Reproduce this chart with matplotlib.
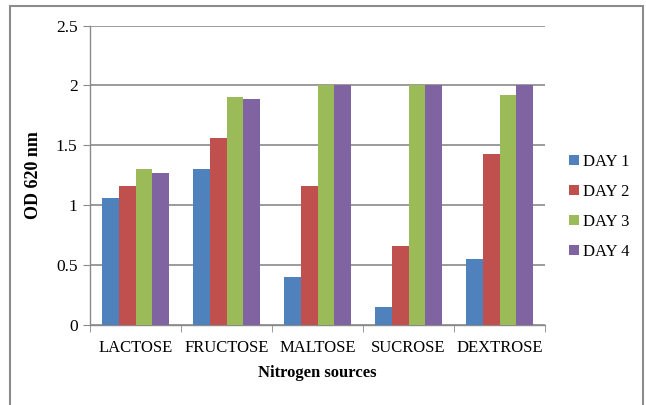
import numpy as np
import matplotlib
matplotlib.use("Agg")
import matplotlib.pyplot as plt
from matplotlib.patches import Rectangle

plt.rcParams['font.family'] = ['Liberation Serif', 'DejaVu Serif']

sources = ['LACTOSE', 'FRUCTOSE', 'MALTOSE', 'SUCROSE', 'DEXTROSE']
day1 = [1.06, 1.30, 0.40, 0.15, 0.55]
day2 = [1.16, 1.56, 1.16, 0.66, 1.43]
day3 = [1.30, 1.90, 2.00, 2.00, 1.92]
day4 = [1.27, 1.89, 2.00, 2.00, 2.00]
series = [('DAY 1', day1), ('DAY 2', day2), ('DAY 3', day3), ('DAY 4', day4)]
colors = ['#4F81BD', '#C0504D', '#9BBB59', '#8064A2']
grid_c = '#8a8a8a'

fig = plt.figure(figsize=(6.46, 4.05), dpi=100)
ax = fig.add_axes([90 / 646, 1 - 325 / 405, 455 / 646, 299.5 / 405])

x = np.arange(len(sources))
w = 1 / 5.5
for i, (name, vals) in enumerate(series):
    ax.bar(x + (i - 1.5) * w, vals, width=w, color=colors[i], label=name, zorder=3)

ax.set_xlim(-0.5, len(sources) - 0.5)
ax.set_ylim(0, 2.5)
ax.set_yticks([0, 0.5, 1, 1.5, 2, 2.5])
ax.set_yticklabels(['0', '0.5', '1', '1.5', '2', '2.5'])
ax.set_xticks(x)
ax.set_xticklabels(sources)
ax.set_xticks(np.arange(-0.5, len(sources)), minor=True)
ax.tick_params(axis='x', which='major', length=0, pad=11, labelsize=12)
ax.tick_params(axis='x', which='minor', length=5, color=grid_c, direction='out')
ax.tick_params(axis='y', length=5, color=grid_c, pad=4, labelsize=12.5)
ax.yaxis.grid(True, color=grid_c, linewidth=1.2, zorder=0)
for side in ['top', 'right']:
    ax.spines[side].set_visible(False)
for side in ['left', 'bottom']:
    ax.spines[side].set_color(grid_c)
    ax.spines[side].set_linewidth(1.0)

ax.set_xlabel('Nitrogen sources', fontsize=12, fontweight='bold', labelpad=6)
ax.set_ylabel('OD 620 nm', fontsize=13, fontweight='bold', labelpad=10)

fig.legend(loc='center left', bbox_to_anchor=(561 / 646, 1 - 207 / 405),
           frameon=False, fontsize=12, handlelength=0.55, handleheight=0.55,
           handletextpad=0.25, labelspacing=0.85, borderpad=0)

# outer frame around the chart
fig.patches.append(Rectangle((10 / 646, -0.05), 633 / 646, 1.05 - 6 / 405,
                             transform=fig.transFigure, fill=False,
                             edgecolor='#8c8c8c', linewidth=1.5))

fig.savefig('out.png', dpi=100)
